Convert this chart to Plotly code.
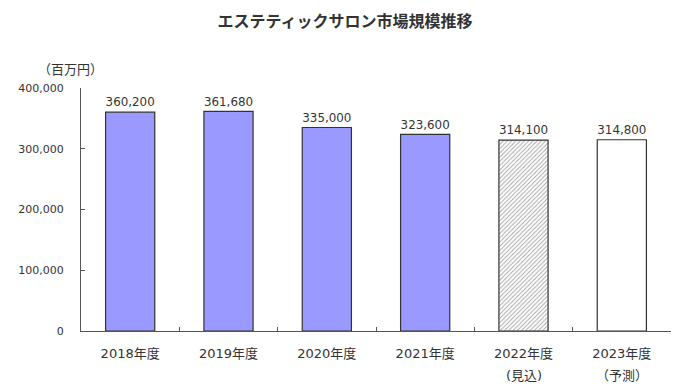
import plotly.graph_objects as go

categories = ["2018年度", "2019年度", "2020年度", "2021年度", "2022年度", "2023年度"]
sub_labels = ["", "", "", "", "(見込)", "（予測）"]
values = [360200, 361680, 335000, 323600, 314100, 314800]
value_labels = ["360,200", "361,680", "335,000", "323,600", "314,100", "314,800"]
y_tickvals = [0, 100000, 200000, 300000, 400000]
y_ticktext = ["0", "100,000", "200,000", "300,000", "400,000"]

FONT = "DejaVu Sans, Noto Sans CJK JP, sans-serif"
CJK = "Noto Sans CJK JP, sans-serif"
TXT = "#333333"
fills = ["#9999FF", "#9999FF", "#9999FF", "#9999FF", "white", "white"]
shapes = ["", "", "", "", "/", ""]

fig = go.Figure()
fig.add_trace(go.Bar(
    x=categories,
    y=values,
    text=value_labels,
    textposition="outside",
    textfont=dict(family=FONT, size=13, color=TXT),
    cliponaxis=False,
    marker=dict(
        color=fills,
        line=dict(color="#333333", width=1.2),
        pattern=dict(shape=shapes, fgcolor="#B8B8EC", size=3, solidity=0.3,
                     fillmode="overlay"),
    ),
    width=0.5,
    hoverinfo="skip",
))

annotations = [dict(text="（百万円）", xref="paper", yref="paper", x=-0.017, y=1.082,
                    xanchor="center", yanchor="middle", showarrow=False,
                    font=dict(family=CJK, size=13, color=TXT))]
for cat, sub in zip(categories, sub_labels):
    if sub:
        annotations.append(dict(text=sub, xref="x", yref="paper", x=cat, y=-0.185,
                                xanchor="center", yanchor="middle", showarrow=False,
                                font=dict(family=FONT, size=13, color=TXT)))

fig.update_layout(
    width=694, height=391,
    margin=dict(l=81, r=23, t=88, b=60, autoexpand=False),
    paper_bgcolor="white", plot_bgcolor="white",
    showlegend=False,
    font=dict(family=FONT, size=12, color=TXT),
    title=dict(text="<b>エステティックサロン市場規模推移</b>", x=0.497, xanchor="center",
               y=0.944, yanchor="middle", font=dict(family=CJK, size=16, color=TXT)),
    annotations=annotations,
)
fig.update_xaxes(
    showline=True, linecolor="#555555", linewidth=1,
    ticks="inside", tickson="boundaries", ticklen=4, tickcolor="#555555",
    tickfont=dict(family=FONT, size=13, color=TXT),
    showgrid=False, automargin=False, ticklabelstandoff=10,
)
fig.update_yaxes(
    range=[0, 400000], tickvals=y_tickvals, ticktext=y_ticktext,
    showline=True, linecolor="#555555", linewidth=1,
    ticks="inside", ticklen=4, tickcolor="#555555",
    tickfont=dict(family=FONT, size=11, color=TXT),
    showgrid=False, zeroline=False, ticklabelstandoff=14, automargin=False,
)

fig.write_html("out.html", config={"displayModeBar": False},
               post_script="document.body.style.margin='0';")
